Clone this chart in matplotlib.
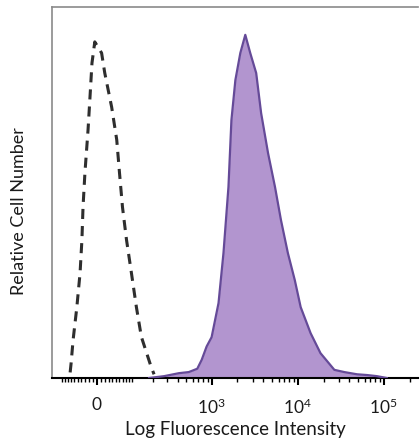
import matplotlib
matplotlib.use("Agg")
import matplotlib.pyplot as plt
import numpy as np

# Control (isotype) histogram: fluorescence intensity vs relative count
ctrl_x = [-72, -69, -63, -52, -43, -38, -35, -30, -22, -17, -12, -5,
          12, 20, 38, 52, 60, 69, 82, 99, 118, 139, 188, 205]
ctrl_y = [1.5, 4.0, 10.2, 19.1, 28.3, 37.2, 46.1, 55.3, 66.8, 75.7, 84.9, 90.6,
          87.6, 82.2, 73.0, 64.2, 55.3, 46.1, 37.2, 28.3, 19.1, 11.1, 3.0, 1.0]

# Stained sample histogram
stain_x = [177, 274, 413, 541, 680, 766, 875, 1000, 1204, 1375, 1571, 1701, 1891,
           2159, 2466, 2815, 3301, 3767, 4535, 5459, 6400, 7700, 9265, 10850,
           14140, 18420, 26700, 34800, 49000, 63900, 83200, 108400]
stain_y = [0, 0.5, 1.3, 1.6, 2.5, 4.9, 8.5, 11.0, 20.2, 33.7, 51.5, 69.5, 80.3,
           87.6, 92.5, 87.6, 82.2, 71.4, 60.6, 51.5, 42.6, 33.7, 26.4, 19.1,
           12.1, 6.7, 2.2, 1.6, 1.0, 0.8, 0.5, 0]

major_ticks = [0, 1e3, 1e4, 1e5]
major_labels = ["0", r"$10^3$", r"$10^4$", r"$10^5$"]
minor_ticks = ([v for v in range(-100, 101, 10) if v != 0]
               + list(range(200, 1000, 100))
               + list(range(2000, 10000, 1000))
               + list(range(20000, 100000, 10000))
               + [200000])

fam = 'Lato'
plt.rcParams['font.family'] = [fam, 'DejaVu Sans']
plt.rcParams['mathtext.fontset'] = 'custom'
plt.rcParams['mathtext.rm'] = fam
plt.rcParams['mathtext.it'] = fam
plt.rcParams['mathtext.bf'] = fam

fig = plt.figure(figsize=(4.2, 4.44), dpi=100)
ax = fig.add_axes([52/420, 1-378/444, (418-52)/420, (378-7)/444])

ax.set_xscale('asinh', linear_width=93)
ax.fill_between(stain_x, stain_y, 0, color='#b295cf', linewidth=0, zorder=2)
ax.plot(stain_x, stain_y, color='#654a98', linewidth=1.6, zorder=3)
ax.plot(ctrl_x, ctrl_y, color='#2e2e2e', linewidth=2.2, linestyle=(0, (3.3, 2.3)), zorder=4)

ax.set_xlim(-140, 2.5e5)
ax.set_ylim(0, 100)
ax.set_xticks(major_ticks)
ax.set_xticklabels(major_labels, fontsize=12.5, color='#1a1a1a')
ax.set_xticks(minor_ticks, minor=True)
ax.tick_params(axis='x', which='major', length=5, width=1.5, direction='out', color='black', pad=9)
ax.tick_params(axis='x', which='minor', length=3, width=1, direction='out', color='black')
ax.set_yticks([])

for s in ['left', 'top']:
    ax.spines[s].set_color('#8a8a8a')
    ax.spines[s].set_linewidth(1.2)
ax.spines['right'].set_visible(False)
ax.spines['bottom'].set_color('black')
ax.spines['bottom'].set_linewidth(1.5)

ax.set_xlabel("Log Fluorescence Intensity", fontsize=13.5, labelpad=3, color='#1a1a1a')
ax.set_ylabel("Relative Cell Number", fontsize=13, color='#1a1a1a')
ax.yaxis.set_label_coords(-0.068, 0.45)

fig.savefig("out.png", dpi=100, facecolor='white')
